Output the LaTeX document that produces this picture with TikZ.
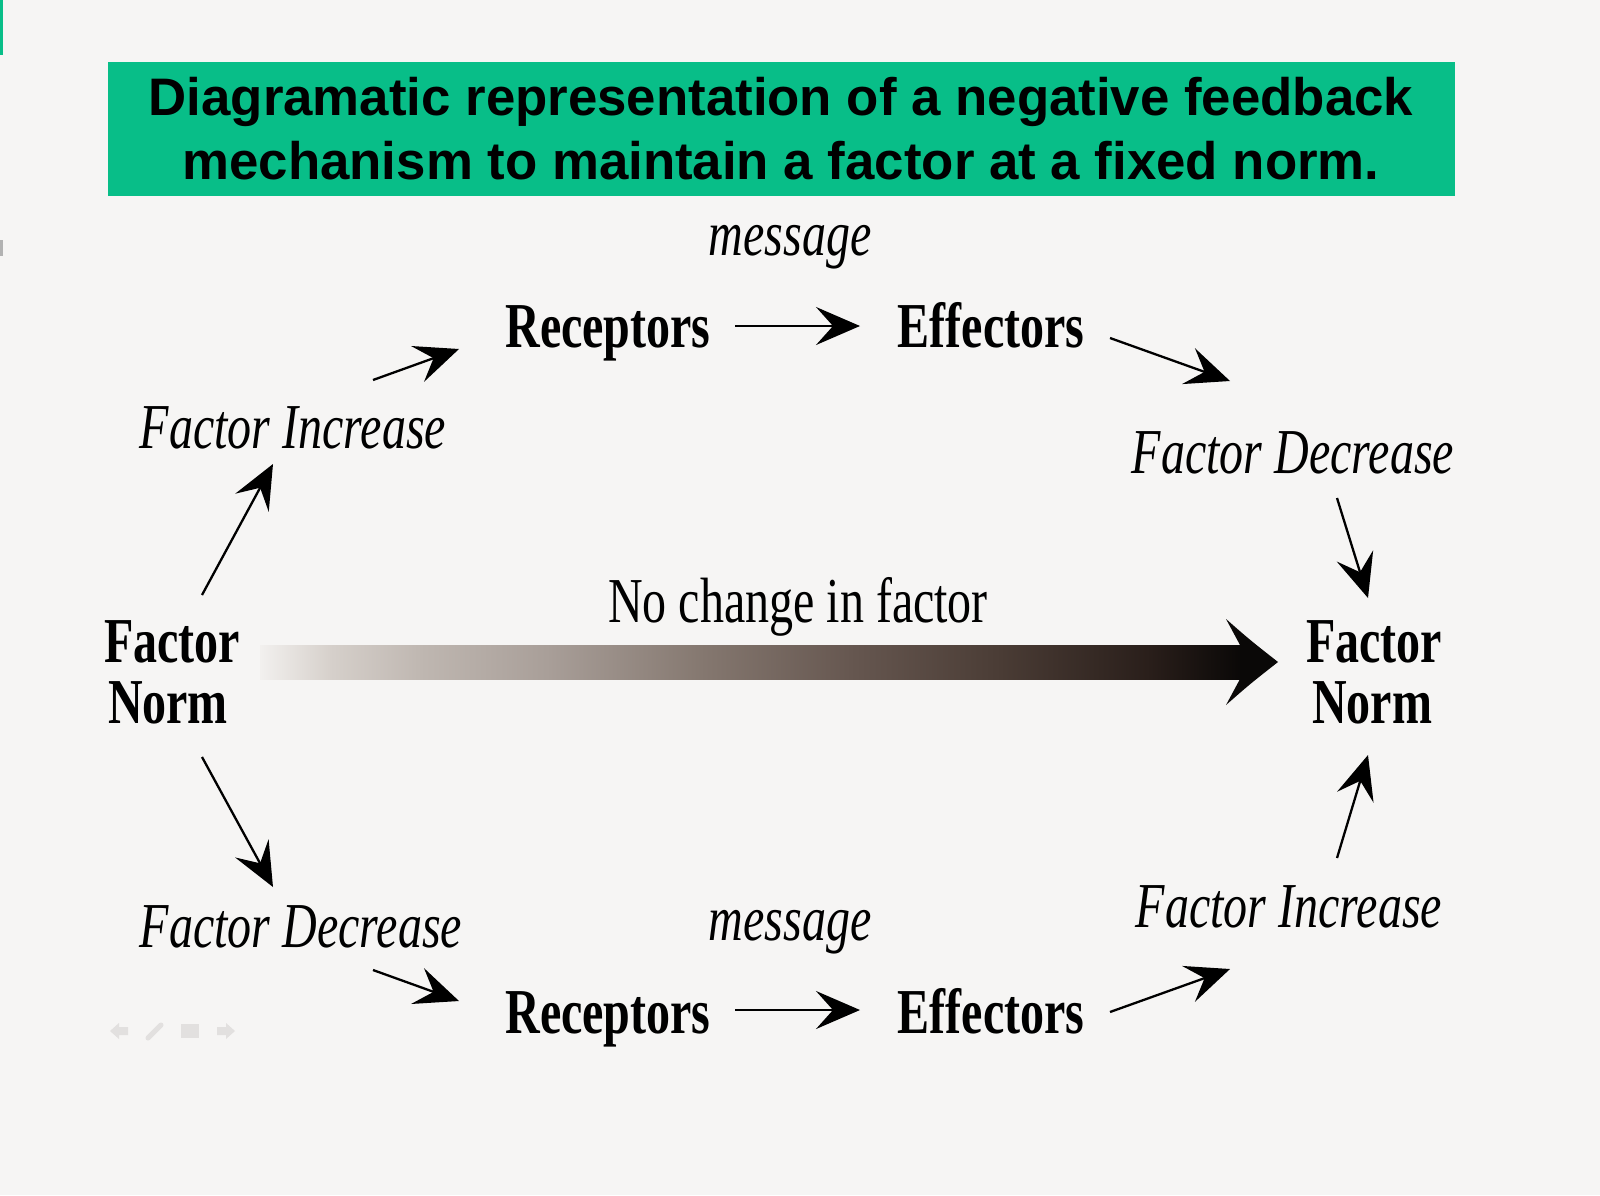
\documentclass[tikz,border=0pt]{standalone}
\usepackage{fontspec}
\setmainfont{Liberation Serif}
\newfontfamily\condrm[FakeStretch=0.75]{Liberation Serif}
\newfontfamily\titlefont{Liberation Sans}
\usetikzlibrary{arrows.meta}
\definecolor{bgcol}{HTML}{F6F5F4}
\definecolor{titlegreen}{RGB}{8,190,136}
\definecolor{navgray}{HTML}{E2E0DF}
\definecolor{g0}{HTML}{F2F0EE}
\definecolor{g1}{HTML}{D6D0CB}
\definecolor{g2}{HTML}{BFB7B1}
\definecolor{g3}{HTML}{A89E98}
\definecolor{g4}{HTML}{857870}
\definecolor{g5}{HTML}{665750}
\definecolor{g6}{HTML}{4A3C35}
\definecolor{g7}{HTML}{291E1A}
\definecolor{g8}{HTML}{0A0807}
\tikzset{
  txt/.style={inner sep=0pt, anchor=base},
  boldlbl/.style={txt, font=\condrm\bfseries\fontsize{32}{32}\selectfont},
  itlbl/.style={txt, font=\condrm\itshape\fontsize{32}{32}\selectfont},
  rmlbl/.style={txt, font=\condrm\fontsize{32}{32}\selectfont},
  arr/.style={line width=1.15pt, -{Stealth[length=22pt,width=19pt,inset=8.5pt]}},
  seg/.style={draw=none},
}
\begin{document}
\begin{tikzpicture}[x=0.5pt,y=-0.5pt]
\useasboundingbox (0,0) rectangle (1600,1195);
\fill[bgcol] (0,0) rectangle (1600,1195);
% slide artefacts
\fill[titlegreen] (0,0) rectangle (3,55);
\fill[gray!60] (0,240) rectangle (3,256);
% title
\fill[titlegreen] (108,62) rectangle (1455,196);
\node[inner sep=0pt, align=center, font=\titlefont\bfseries\fontsize{26.4}{32}\selectfont]
  (title) at (781,129) {Diagramatic representation of a negative feedback\\mechanism to maintain a factor at a fixed norm.};
% labels
\node[itlbl] (msgT) at (790,255) {message};
\node[boldlbl] (recT) at (608,347) {Receptors};
\node[boldlbl] (effT) at (991,347) {Effectors};
\node[itlbl] (fiTL) at (293,448) {Factor Increase};
\node[itlbl] (fdTR) at (1293,473) {Factor Decrease};
\node[rmlbl] (nochg) at (798,622) {No change in factor};
\node[boldlbl] (fnL1) at (172,662) {Factor};
\node[boldlbl] (fnL2) at (168,723) {Norm};
\node[boldlbl] (fnR1) at (1374,662) {Factor};
\node[boldlbl] (fnR2) at (1372,723) {Norm};
\node[itlbl] (fdBL) at (301,947) {Factor Decrease};
\node[itlbl] (msgB) at (790,940) {message};
\node[boldlbl] (recB) at (608,1033) {Receptors};
\node[boldlbl] (effB) at (991,1033) {Effectors};
\node[itlbl] (fiBR) at (1289,927) {Factor Increase};
% arrow end points
\coordinate (a1s) at (373,380); \coordinate (a1e) at (459,349);
\coordinate (a2s) at (735,326); \coordinate (a2e) at (860,326);
\coordinate (a3s) at (1110,338); \coordinate (a3e) at (1230,381);
\coordinate (a4s) at (1337,498); \coordinate (a4e) at (1368,598);
\coordinate (a5s) at (202,595); \coordinate (a5e) at (273,464);
\coordinate (a6s) at (202,757); \coordinate (a6e) at (273,887);
\coordinate (a7s) at (373,970); \coordinate (a7e) at (459,1001);
\coordinate (a8s) at (735,1010); \coordinate (a8e) at (860,1010);
\coordinate (a9s) at (1110,1012); \coordinate (a9e) at (1230,969);
\coordinate (a10s) at (1337,858); \coordinate (a10e) at (1368,755);
\draw[arr] (a1s) -- (a1e);
\draw[arr] (a2s) -- (a2e);
\draw[arr] (a3s) -- (a3e);
\draw[arr] (a4s) -- (a4e);
\draw[arr] (a5s) -- (a5e);
\draw[arr] (a6s) -- (a6e);
\draw[arr] (a7s) -- (a7e);
\draw[arr] (a8s) -- (a8e);
\draw[arr] (a9s) -- (a9e);
\draw[arr] (a10s) -- (a10e);
% big gradient arrow
\coordinate (bigs) at (260,662);
\coordinate (bige) at (1278,662);
\shade[seg, left color=g0, right color=g1] (260,645) rectangle (331,679);
\shade[seg, left color=g1, right color=g2] (330,645) rectangle (421,679);
\shade[seg, left color=g2, right color=g3] (420,645) rectangle (551,679);
\shade[seg, left color=g3, right color=g4] (550,645) rectangle (701,679);
\shade[seg, left color=g4, right color=g5] (700,645) rectangle (851,679);
\shade[seg, left color=g5, right color=g6] (850,645) rectangle (1001,679);
\shade[seg, left color=g6, right color=g7] (1000,645) rectangle (1151,679);
\shade[seg, left color=g7, right color=g8] (1150,645) rectangle (1242,679);
\fill[g8] (1226,619) .. controls (1250,640) .. (bige) .. controls (1250,684) .. (1226,705)
  -- (1240,679) -- (1240,645) -- cycle;
% faint slide navigation icons
\fill[navgray] (110,1031) -- (119,1023) -- (119,1027) -- (128,1027) -- (128,1035) -- (119,1035) -- (119,1039) -- cycle;
\draw[navgray, line width=2.5pt, line cap=round] (148,1038) -- (161,1025);
\fill[navgray] (181,1024) rectangle (199,1038);
\fill[navgray] (217,1027) -- (226,1027) -- (226,1023) -- (235,1031) -- (226,1039) -- (226,1035) -- (217,1035) -- cycle;
\end{tikzpicture}
\end{document}
